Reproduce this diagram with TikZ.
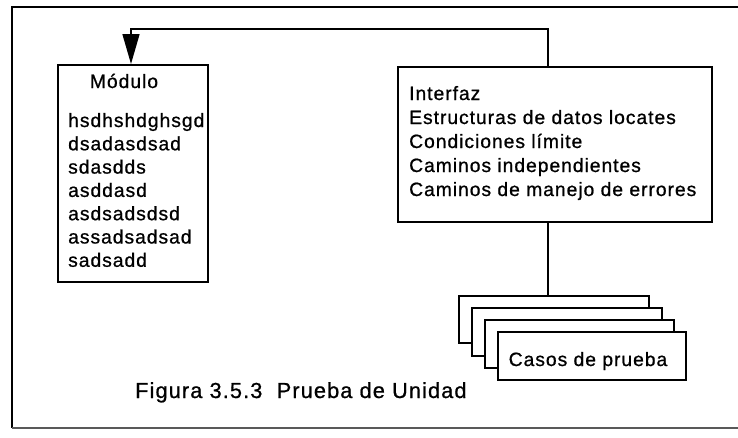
\documentclass[tikz,border=0pt]{standalone}
\usepackage{fontspec}
\setmainfont{Liberation Sans}[LetterSpace=5.0,FakeBold=0.8]
\usetikzlibrary{arrows.meta}
\begin{document}
\begin{tikzpicture}[x=1pt,y=-1pt,
  box/.style={draw=black, line width=1.5pt, fill=white, inner sep=0pt, anchor=north west},
  txt/.style={inner sep=0pt, anchor=base west, font=\fontsize{19.3}{22}\selectfont},
  conn/.style={draw=black, line width=1.5pt},
  arr/.style={conn, -{Triangle[length=30pt,width=17pt]}}]
\useasboundingbox (0,0) rectangle (738,437);
% outer frame (right side open)
\draw[line width=1.3pt] (738,7) -- (12,7) -- (12,428);
\draw[line width=1.2pt, black!65] (12,428) -- (738,428);
% module box
\node[box, minimum width=150, minimum height=217] (mod) at (57,64) {};
\node[txt, anchor=base] (mtitle) at (124,88) {Módulo};
\foreach \t [count=\i] in {hsdhshdghsgd,dsadasdsad,sdasdds,asddasd,asdsadsdsd,assadsadsad,sadsadd}
  \node[txt] (m\i) at (68,{127+23.3*(\i-1)}) {\t};
% interface box
\node[box, minimum width=314, minimum height=155] (ifz) at (397,66) {};
\foreach \t [count=\i] in {Interfaz,Estructuras de datos locates,Condiciones límite,Caminos independientes,Caminos de manejo de errores}
  \node[txt] (r\i) at (409,{100+24*(\i-1)}) {\t};
% stacked test-case boxes
\node[box, minimum width=190, minimum height=47] (c1) at (458,295) {};
\node[box, minimum width=190, minimum height=48] (c2) at (471,307) {};
\node[box, minimum width=189, minimum height=48] (c3) at (484,319) {};
\node[box, minimum width=188, minimum height=48] (c4) at (497,331) {};
\node[txt, anchor=base] (casos) at (588,366) {Casos de prueba};
% connectors
\coordinate (ta) at (548,66);
\coordinate (tc) at (131,29);
\draw[arr] (ta) |- (tc) -- (mod.north -| tc);
\draw[conn] (ifz.south -| ta) -- (c1.north -| ta);
% caption
\node[txt, font=\fontsize{21.8}{25}\selectfont] (cap) at (135,398) {Figura 3.5.3\ \ Prueba de Unidad};
\end{tikzpicture}
\end{document}
